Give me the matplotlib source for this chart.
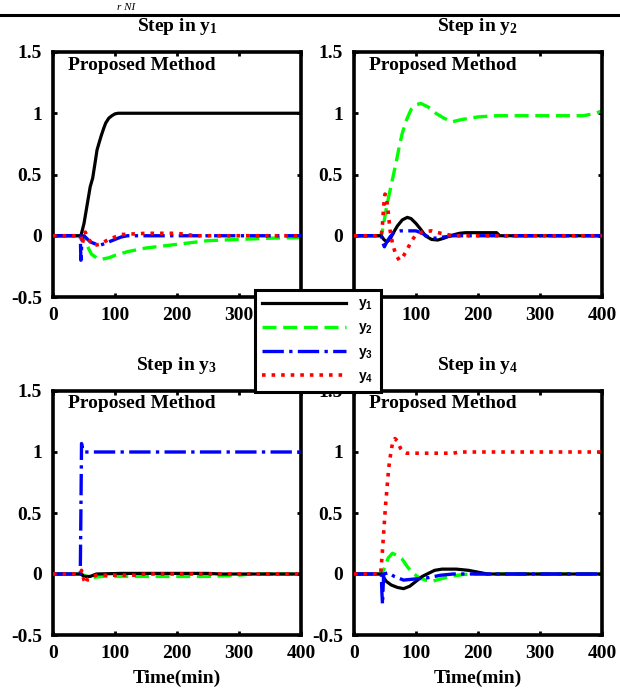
import matplotlib
matplotlib.use("Agg")
import matplotlib.pyplot as plt
from matplotlib.lines import Line2D

plt.rcParams['font.family'] = ['Liberation Serif', 'DejaVu Serif']
plt.rcParams['font.weight'] = 'bold'
plt.rcParams['mathtext.fontset'] = 'custom'
plt.rcParams['mathtext.rm'] = 'Liberation Serif:bold'
plt.rcParams['mathtext.it'] = 'Liberation Serif:bold'
plt.rcParams['mathtext.bf'] = 'Liberation Serif:bold'
plt.rcParams['mathtext.sf'] = 'Liberation Sans:bold'

# ---------------- data (time in min, response) ----------------
# Panel 1: step in y1
P1_Y1_T = [0, 45, 50, 55, 60, 64, 68, 71, 75, 78, 82, 85, 90, 95, 100, 105, 110, 400]
P1_Y1_V = [0, 0, 0.10, 0.25, 0.40, 0.47, 0.60, 0.70, 0.77, 0.82, 0.88, 0.92, 0.96, 0.98, 0.995, 1.0, 1.0, 1.0]
P1_Y2_T = [0, 45, 50, 55, 62, 70, 80, 90, 100, 120, 150, 200, 250, 300, 350, 400]
P1_Y2_V = [0, 0, -0.02, -0.08, -0.15, -0.18, -0.19, -0.18, -0.16, -0.13, -0.10, -0.07, -0.04, -0.03, -0.02, -0.015]
P1_Y3_T = [0, 44, 45, 47, 50, 60, 75, 90, 110, 120, 400]
P1_Y3_V = [0, 0, -0.20, -0.02, 0, -0.05, -0.08, -0.05, -0.01, 0, 0]
P1_Y4_T = [0, 45, 47, 52, 58, 65, 75, 90, 110, 150, 200, 230, 400]
P1_Y4_V = [0, 0, -0.07, 0.03, -0.03, -0.08, -0.07, -0.03, 0.01, 0.02, 0.02, 0, 0]

# Panel 2: step in y2
P2_Y1_T = [0, 44, 48, 53, 58, 63, 70, 78, 86, 92, 100, 108, 115, 125, 135, 145, 155, 170, 180, 230, 235, 400]
P2_Y1_V = [0, 0, -0.03, -0.05, -0.03, 0.02, 0.08, 0.13, 0.15, 0.14, 0.10, 0.05, 0.0, -0.03, -0.035, -0.02, 0.0, 0.02, 0.025, 0.025, 0.0, 0]
P2_Y2_T = [0, 44, 48, 52, 56, 62, 68, 73, 78, 85, 92, 100, 108, 120, 132, 145, 158, 175, 200, 230, 300, 370, 390, 400]
P2_Y2_V = [0, 0, 0.10, 0.22, 0.32, 0.46, 0.60, 0.73, 0.84, 0.95, 1.03, 1.07, 1.08, 1.05, 1.0, 0.96, 0.93, 0.95, 0.97, 0.98, 0.98, 0.98, 1.0, 1.02]
P2_Y3_T = [0, 44, 46, 49, 53, 58, 65, 75, 100, 110, 120, 130, 145, 160, 400]
P2_Y3_V = [0, 0, -0.05, -0.09, -0.05, -0.01, 0.03, 0.04, 0.04, 0.02, -0.01, -0.02, -0.01, 0, 0]
P2_Y4_T = [0, 44, 46, 48, 50, 52, 55, 58, 62, 67, 73, 78, 85, 92, 100, 110, 125, 140, 160, 400]
P2_Y4_V = [0, 0, 0.10, 0.25, 0.34, 0.33, 0.20, 0.05, -0.06, -0.15, -0.20, -0.18, -0.12, -0.05, 0.01, 0.03, 0.04, 0.02, 0, 0]

# Panel 3: step in y3
P3_Y1_T = [0, 45, 50, 60, 70, 110, 250, 270, 400]
P3_Y1_V = [0, 0, -0.02, -0.02, 0, 0.005, 0.005, 0, 0]
P3_Y2_T = [0, 45, 50, 60, 80, 150, 250, 300, 320, 400]
P3_Y2_V = [0, 0, -0.01, -0.03, -0.02, -0.02, -0.02, -0.01, 0, 0]
P3_Y3_T = [0, 44, 45, 46, 48, 50, 400]
P3_Y3_V = [0, 0, 0.5, 1.07, 1.02, 1.0, 1.0]
P3_Y4_T = [0, 44, 46, 50, 53, 56, 60, 70, 130, 150, 400]
P3_Y4_V = [0, 0, 0.03, -0.05, -0.08, -0.04, -0.03, -0.01, -0.01, 0, 0]

# Panel 4: step in y4
P4_Y1_T = [0, 45, 48, 52, 60, 70, 80, 90, 100, 110, 118, 130, 142, 165, 185, 200, 215, 400]
P4_Y1_V = [0, 0, -0.03, -0.06, -0.09, -0.11, -0.12, -0.10, -0.06, -0.02, 0.0, 0.03, 0.04, 0.04, 0.03, 0.015, 0, 0]
P4_Y2_T = [0, 45, 50, 55, 62, 70, 78, 86, 94, 105, 115, 126, 140, 155, 175, 190, 400]
P4_Y2_V = [0, 0, 0.06, 0.13, 0.17, 0.15, 0.12, 0.06, 0.01, -0.03, -0.05, -0.06, -0.04, -0.02, -0.005, 0, 0]
P4_Y3_T = [0, 44, 45, 46, 47, 48, 55, 65, 80, 100, 120, 140, 160, 400]
P4_Y3_V = [0, 0, -0.15, -0.25, -0.10, 0.0, 0.01, -0.02, -0.05, -0.04, -0.03, -0.01, 0, 0]
P4_Y4_T = [0, 43, 46, 48, 51, 54, 56, 59, 62, 66, 70, 75, 80, 85, 160, 170, 400]
P4_Y4_V = [0, 0, 0.20, 0.35, 0.57, 0.75, 0.87, 0.98, 1.07, 1.11, 1.09, 1.03, 1.0, 0.99, 0.99, 1.0, 1.0]

PANEL_TITLES = [r'Step in y$_{1}$', r'Step in y$_{2}$', r'Step in y$_{3}$', r'Step in y$_{4}$']
PANEL_TEXT = 'Proposed Method'
SERIES_LABELS = [r'$\mathsf{y}_\mathsf{1}$', r'$\mathsf{y}_\mathsf{2}$', r'$\mathsf{y}_\mathsf{3}$', r'$\mathsf{y}_\mathsf{4}$']
X_TICKS = [0, 100, 200, 300, 400]
X_TICKLABELS = ['0', '100', '200', '300', '400']
Y_TICKS = [-0.5, 0, 0.5, 1, 1.5]
Y_TICKLABELS = ['-0.5', '0', '0.5', '1', '1.5']
X_LABEL = 'Time(min)'

panels = [
    [(P1_Y1_T, P1_Y1_V), (P1_Y2_T, P1_Y2_V), (P1_Y3_T, P1_Y3_V), (P1_Y4_T, P1_Y4_V)],
    [(P2_Y1_T, P2_Y1_V), (P2_Y2_T, P2_Y2_V), (P2_Y3_T, P2_Y3_V), (P2_Y4_T, P2_Y4_V)],
    [(P3_Y1_T, P3_Y1_V), (P3_Y2_T, P3_Y2_V), (P3_Y3_T, P3_Y3_V), (P3_Y4_T, P3_Y4_V)],
    [(P4_Y1_T, P4_Y1_V), (P4_Y2_T, P4_Y2_V), (P4_Y3_T, P4_Y3_V), (P4_Y4_T, P4_Y4_V)],
]

styles = [
    dict(color='black', linestyle='-', lw=2.3),
    dict(color='#00ff00', linestyle=(0, (4.2, 2.0)), lw=2.4),
    dict(color='#0000ff', linestyle='-.', lw=2.4),
    dict(color='#ff0000', linestyle=':', lw=2.6),
]
z_order = [3, 2, 4, 5]

W, H = 620, 689
fig = plt.figure(figsize=(W / 100, H / 100), dpi=100)

positions = [
    (53 / W, 1 - 297 / H, 248 / W, 245 / H),
    (354 / W, 1 - 297 / H, 248 / W, 245 / H),
    (53 / W, 1 - 635 / H, 248 / W, 244 / H),
    (354 / W, 1 - 635 / H, 248 / W, 244 / H),
]

handles = []
for i, (pos, series) in enumerate(zip(positions, panels)):
    ax = fig.add_axes(pos)
    for j, (t, v) in enumerate(series):
        ln, = ax.plot(t, v, zorder=z_order[j], **styles[j])
        if i == 0:
            handles.append(ln)
    ax.set_xlim(0, 400)
    ax.set_ylim(-0.5, 1.5)
    ax.set_xticks(X_TICKS)
    ax.set_xticklabels(X_TICKLABELS)
    ax.set_yticks(Y_TICKS)
    ax.set_yticklabels(Y_TICKLABELS)
    ax.tick_params(direction='in', length=3, width=2, top=True, right=True,
                   labelsize=14)
    ax.tick_params(axis='y', pad=8)
    ax.tick_params(axis='x', pad=7)
    for lab in ax.get_xticklabels() + ax.get_yticklabels():
        lab.set_fontweight('bold')
    for sp in ax.spines.values():
        sp.set_linewidth(2.6)
    ax.set_title(PANEL_TITLES[i], fontsize=14, fontweight='bold', pad=15)
    ax.text(15 / 248, 1 - 13 / 245, PANEL_TEXT, transform=ax.transAxes,
            ha='left', va='center', fontsize=14, fontweight='bold')
    if i >= 2:
        ax.set_xlabel(X_LABEL, fontsize=14, fontweight='bold', labelpad=6)

leg = fig.legend(handles, SERIES_LABELS, loc='center',
                 bbox_to_anchor=(318 / W, 1 - 341 / H), fontsize=10,
                 handlelength=6.0, labelspacing=0.65, handletextpad=0.9,
                 borderpad=0.55, fancybox=False, framealpha=1, edgecolor='black')
leg.get_frame().set_linewidth(2.2)

# top rule and small text from page above the chart
fig.add_artist(Line2D([0, 1], [1 - 14.5 / H, 1 - 14.5 / H], transform=fig.transFigure,
                      color='black', lw=2.2))
fig.text(117 / W, 1 - 10 / H, r'r NI', fontsize=8, style='italic',
         fontweight='normal', ha='left', va='baseline')

fig.savefig('out.png', dpi=100)
